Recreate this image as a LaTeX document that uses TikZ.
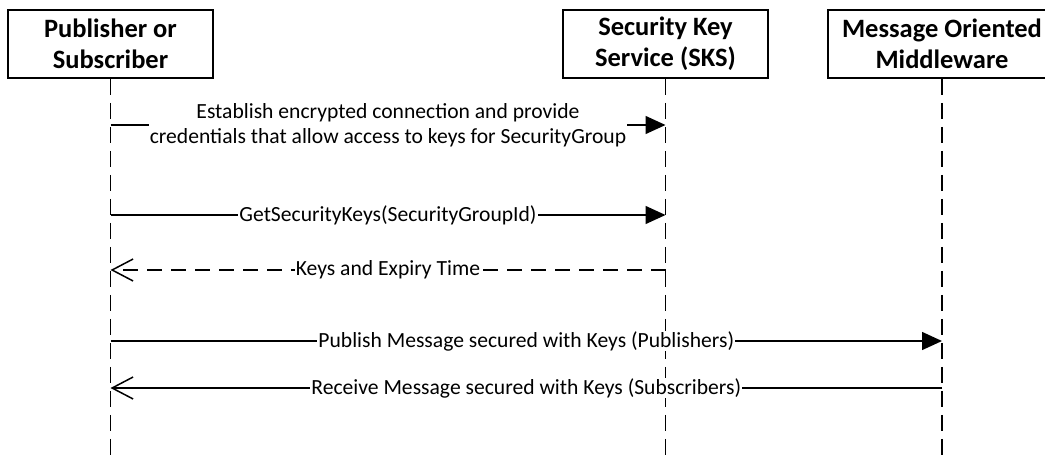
\documentclass[tikz,border=0pt]{standalone}
\usepackage{fontspec}
\setmainfont{Carlito}
\usetikzlibrary{arrows.meta}
\begin{document}
\begin{tikzpicture}[x=1pt,y=-1pt,
  actor/.style={draw, line width=1.8pt, minimum height=68pt, align=center, inner sep=0pt,
    font=\fontsize{26.5}{31}\selectfont\bfseries},
  life/.style={line width=1.8pt, dash pattern=on 16pt off 8pt},
  msg/.style={line width=1.5pt, -{Triangle[length=20pt,width=18pt]}},
  reply/.style={line width=1.5pt, -{Straight Barb[length=21pt,width=22pt,line width=1.5pt]}},
  lbl/.style={fill=white, inner xsep=1pt, inner ysep=0pt, align=center,
    font=\fontsize{21.6}{25}\selectfont}]
\useasboundingbox (0,0) rectangle (1045,455);
% actors
\node[actor, minimum width=205pt] (A) at (110.5,44) {Publisher or\\Subscriber};
\node[actor, minimum width=205pt] (B) at (665.5,44) {Security Key\\Service (SKS)};
\node[actor, minimum width=228pt] (C) at (942,44) {Message Oriented\\Middleware};
% lifeline ends
\coordinate (Ae) at (A.south |- 0,456);
\coordinate (Be) at (B.south |- 0,456);
\coordinate (Ce) at (C.south |- 0,456);
\draw[life] (A.south) -- (Ae);
\draw[life] (B.south) -- (Be);
\draw[life] (C.south) -- (Ce);
% message points
\coordinate (a1) at (A.south |- 0,125); \coordinate (b1) at (B.south |- 0,125);
\coordinate (a2) at (A.south |- 0,215); \coordinate (b2) at (B.south |- 0,215);
\coordinate (a3) at (A.south |- 0,270); \coordinate (b3) at (B.south |- 0,270);
\coordinate (a4) at (A.south |- 0,341); \coordinate (c4) at (C.south |- 0,341);
\coordinate (a5) at (A.south |- 0,388); \coordinate (c5) at (C.south |- 0,388);
% messages
\draw[msg] (a1) -- node[lbl, pos=0.5] (l1) {Establish encrypted connection and provide\\credentials that allow access to keys for SecurityGroup} (b1);
\draw[msg] (a2) -- node[lbl, pos=0.5] (l2) {GetSecurityKeys(SecurityGroupId)} (b2);
\draw[reply, dash pattern=on 15pt off 9pt] (b3) -- node[lbl, pos=0.5] (l3) {Keys and Expiry Time} (a3);
\draw[msg] (a4) -- node[lbl, pos=0.5] (l4) {Publish Message secured with Keys (Publishers)} (c4);
\draw[reply] (c5) -- node[lbl, pos=0.5] (l5) {Receive Message secured with Keys (Subscribers)} (a5);
\end{tikzpicture}
\end{document}
